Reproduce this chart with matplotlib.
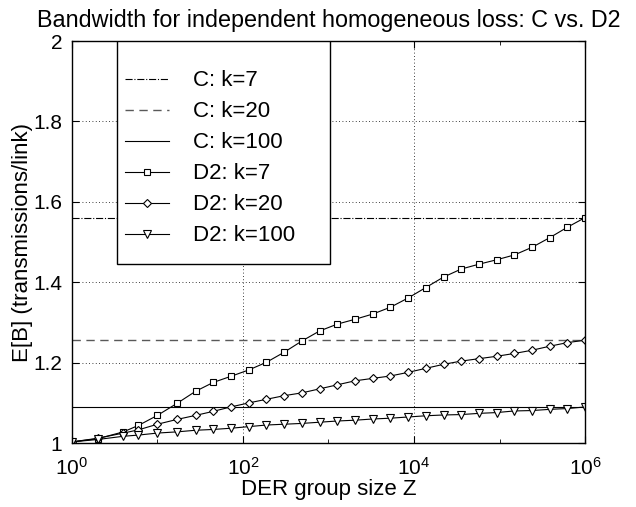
import matplotlib
matplotlib.use("Agg")
import matplotlib.pyplot as plt
from matplotlib.patches import Rectangle
from matplotlib.ticker import FixedLocator, NullFormatter

plt.rcParams["font.family"] = ["Liberation Sans", "DejaVu Sans"]

# DER group size Z (log-spaced sample points)
Z = [1, 2, 4, 6, 10, 17, 28, 45, 72, 117, 188, 303, 489, 788, 1268, 2043,
     3290, 5298, 8531, 13738, 22122, 35622, 57361, 92367, 148735, 239502,
     385662, 621016, 1000000]

# centralized scheme: constant bandwidth
c_k7 = 1.561
c_k20 = 1.256
c_k100 = 1.090

# D2 scheme
d2_k7 = [1.003, 1.011, 1.028, 1.044, 1.069, 1.099, 1.129, 1.151, 1.166, 1.182,
         1.201, 1.226, 1.254, 1.279, 1.296, 1.308, 1.321, 1.338, 1.361, 1.387,
         1.413, 1.433, 1.445, 1.456, 1.468, 1.487, 1.511, 1.537, 1.561]
d2_k20 = [1.003, 1.012, 1.025, 1.033, 1.047, 1.059, 1.069, 1.079, 1.090, 1.100,
          1.109, 1.118, 1.125, 1.135, 1.145, 1.155, 1.161, 1.167, 1.176, 1.186,
          1.196, 1.204, 1.210, 1.216, 1.223, 1.231, 1.241, 1.250, 1.256]
d2_k100 = [1.003, 1.009, 1.017, 1.020, 1.025, 1.028, 1.032, 1.034, 1.037, 1.041,
           1.045, 1.047, 1.049, 1.052, 1.055, 1.057, 1.060, 1.062, 1.065, 1.068,
           1.070, 1.071, 1.074, 1.076, 1.080, 1.081, 1.084, 1.086, 1.090]

FS = 16      # labels, legend
FS_TICK = 15

fig = plt.figure(figsize=(6.36, 5.07), dpi=100)
ax = fig.add_axes([0.113, 0.126, 0.807, 0.793])

ax.axhline(c_k7, color="k", ls="-.", lw=0.8, label="C: k=7")
ax.axhline(c_k20, color="0.35", ls=(0, (6, 4)), lw=1.0, label="C: k=20")
ax.axhline(c_k100, color="k", ls="-", lw=0.8, label="C: k=100")
mk = dict(color="k", lw=0.8, mfc="white", mec="k", mew=0.8)
ax.plot(Z, d2_k7, marker="s", ms=5, label="D2: k=7", **mk)
ax.plot(Z, d2_k20, marker="D", ms=4.5, label="D2: k=20", **mk)
ax.plot(Z, d2_k100, marker="v", ms=6, label="D2: k=100", **mk)

ax.set_xscale("log")
ax.set_xlim(1, 1e6)
ax.set_ylim(1, 2)
ax.xaxis.set_major_locator(FixedLocator([1, 1e2, 1e4, 1e6]))
ax.xaxis.set_minor_locator(FixedLocator([1e1, 1e3, 1e5]))
ax.xaxis.set_minor_formatter(NullFormatter())
ax.set_yticks([1, 1.2, 1.4, 1.6, 1.8, 2])
ax.set_yticklabels(["1", "1.2", "1.4", "1.6", "1.8", "2"])
ax.grid(True, which="major", ls=(0, (1, 3)), color="k", lw=0.6)
ax.tick_params(which="both", direction="in", top=True, right=True, labelsize=FS_TICK)
ax.tick_params(axis="x", which="both", pad=10)
ax.tick_params(axis="y", which="both", pad=7)
ax.tick_params(which="major", length=5)
ax.tick_params(which="minor", length=3)
for s in ax.spines.values():
    s.set_linewidth(1.0)

ax.set_title("Bandwidth for independent homogeneous loss: C vs. D2", fontsize=16.8, pad=10)
ax.set_xlabel("DER group size Z", fontsize=FS, labelpad=0)
ax.set_ylabel("E[B] (transmissions/link)", fontsize=FS, labelpad=0)

# matlab-style legend box: wider/taller than its contents
ax.add_patch(Rectangle((0.088, 0.445), 0.415, 0.555, transform=ax.transAxes,
                       facecolor="white", edgecolor="k", lw=1.0, zorder=4))
leg = ax.legend(loc="upper left", bbox_to_anchor=(0.103, 0.927), fontsize=FS,
                frameon=False, handlelength=2.0, handletextpad=1.05,
                labelspacing=0.45, borderpad=0, borderaxespad=0)
leg.set_zorder(5)

fig.savefig("out.png", dpi=100)
